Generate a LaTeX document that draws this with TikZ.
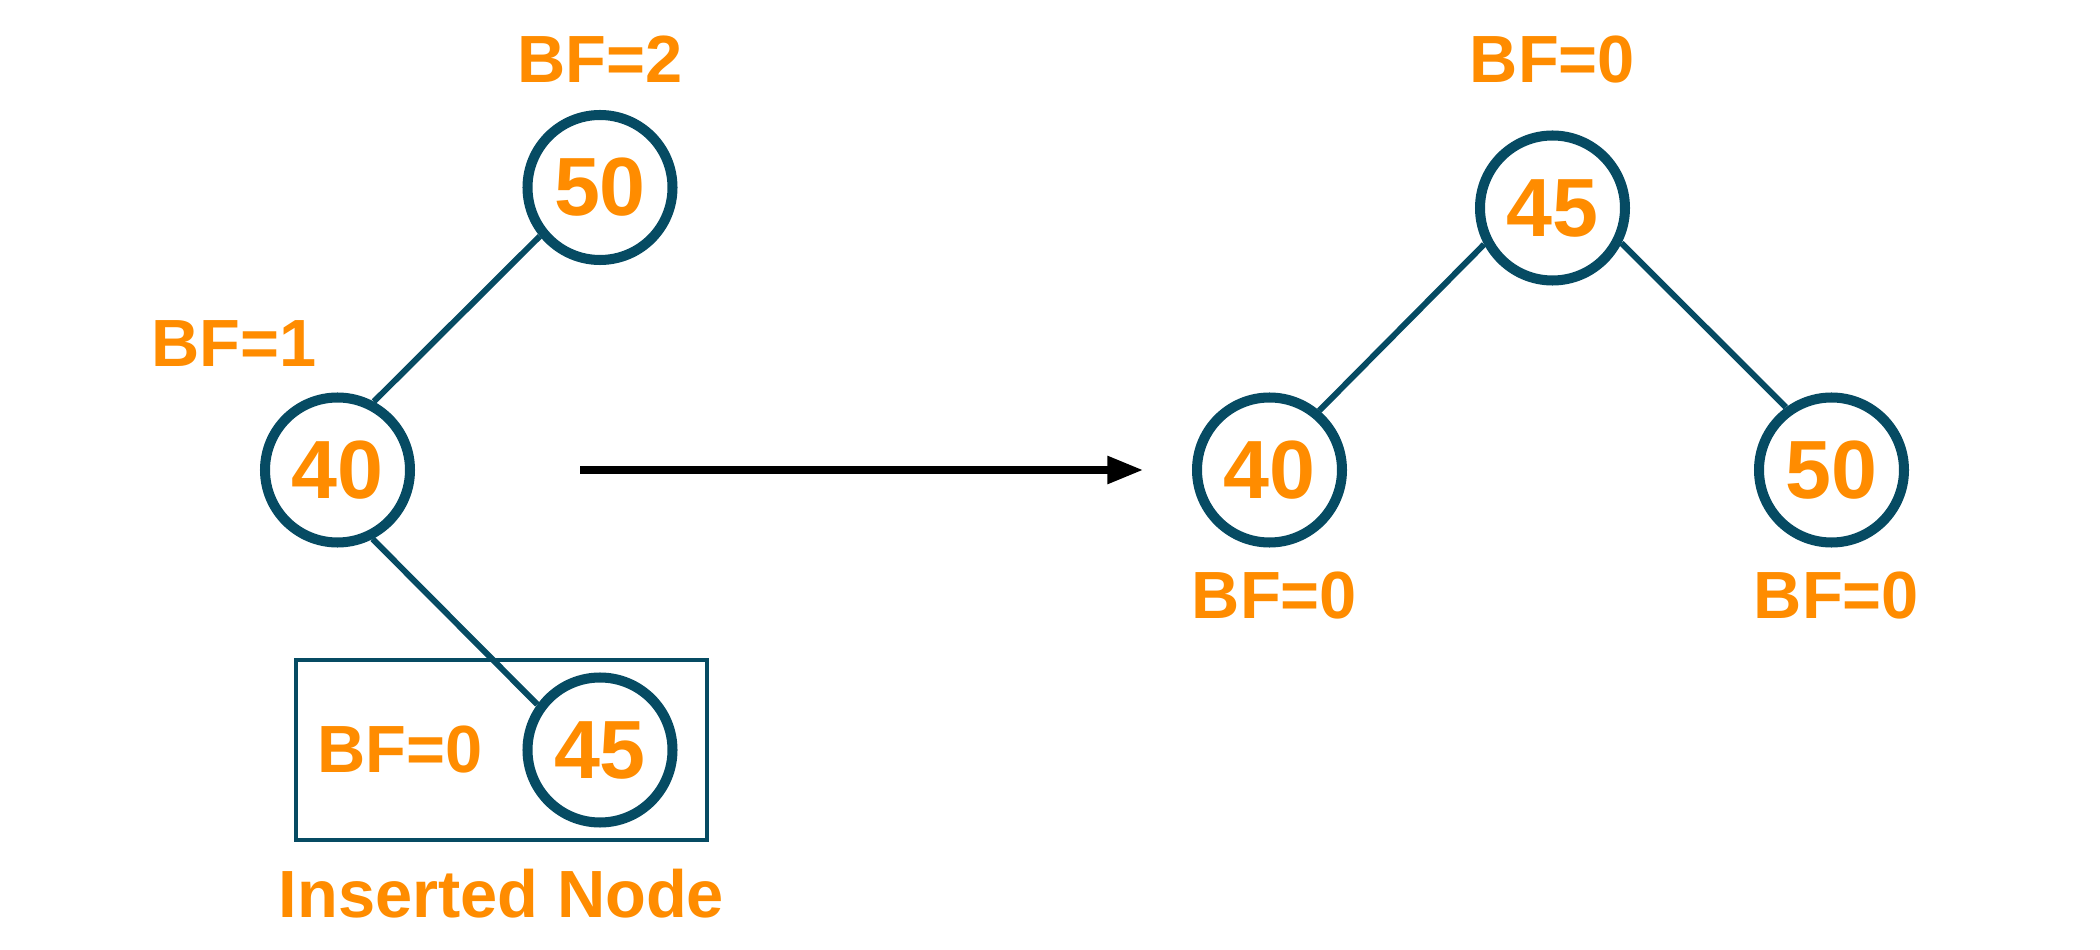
\documentclass[tikz,border=0pt]{standalone}
\usepackage{fontspec}
\setmainfont{Liberation Sans}
\usepackage{xcolor}
\usepackage{tikz}
\usetikzlibrary{arrows.meta,positioning}
\definecolor{ringblue}{HTML}{064B63}
\definecolor{bforange}{HTML}{FF8C00}

\begin{document}
\begin{tikzpicture}[
node distance = 2.5mm and 2mm,
  key/.style = {circle,draw=ringblue,line width=2.85pt,minimum size=14.5mm,inner sep=0pt,
                text=bforange,font=\fontsize{23.5}{26}\selectfont\bfseries},
   bf/.style = {inner sep=0pt,text=bforange,font=\fontsize{19}{22}\selectfont\bfseries},
 edge/.style = {draw=ringblue,line width=1.7pt}
                        ]
\useasboundingbox (0,0) rectangle (21,9.49);
% before rotation
\node (n50)  [key] at (6.00,7.615) {50};
\node (n40)  [key] at (3.375,4.79) {40};
\node (n45a) [key] at (6.00,1.99)  {45};
\node (bf50) [bf,above=2.7mm of n50]                   {BF=2};
\node (bf40) [bf,above left=2.5mm and 2mm of n40.north] {BF=1};
\node (bf45a)[bf,left=3.9mm of n45a]                   {BF=0};
\node (box)  [draw=ringblue,line width=1.1pt,minimum width=41.1mm,minimum height=18mm,
              xshift=-9.85mm] at (n45a) {};
\node (ins)  [bf,below=2.6mm of box] {Inserted Node};
%
\draw[edge] (n50.219) -- (n40.62);
\draw[edge] (n40.297) -- (n45a.144);
% after rotation
\node (r45)  [key] at (15.525,7.41) {45};
\node (r40)  [key] at (12.695,4.79) {40};
\node (r50)  [key] at (18.315,4.79) {50};
\node (bfr45)[bf,above=4.7mm of r45] {BF=0};
\node (bfr40)[bf,below=2.4mm of r40,xshift=0.5mm] {BF=0};
\node (bfr50)[bf,below=2.4mm of r50,xshift=0.5mm] {BF=0};
%
\draw[edge] (r45.208) -- (r40.50);
\draw[edge] (r45.333) -- (r50.126);
%
\coordinate[right=16.5mm of n40]  (p1);
\coordinate[left=4.85mm of r40]   (p2);
\draw[line width=2.3pt,-{Triangle[length=3.6mm,width=2.6mm]}] (p1) -- (p2);
\end{tikzpicture}
\end{document}
